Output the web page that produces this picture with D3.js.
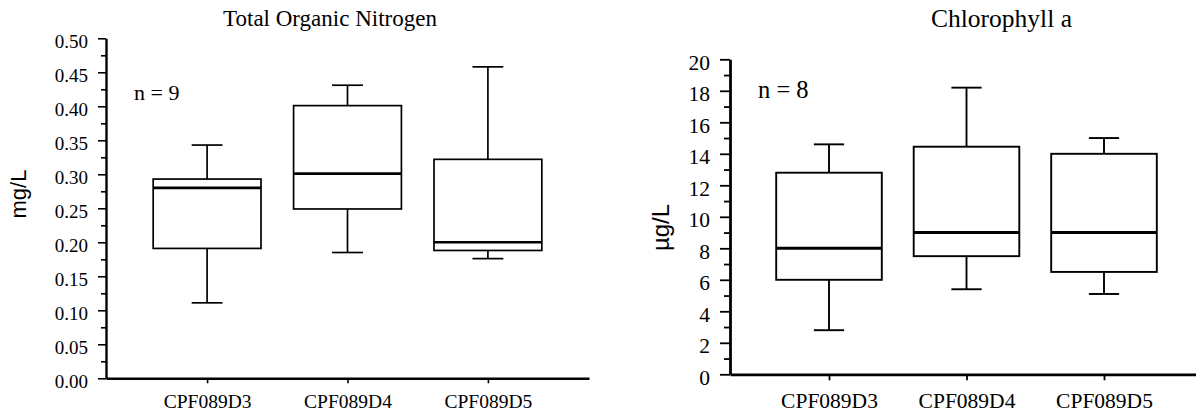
<!DOCTYPE html>
<html>
<head>
<meta charset="utf-8">
<script src="https://cdn.jsdelivr.net/npm/d3@7"></script>
<style>
    body { margin: 0; background: #fff; }
    svg { display: block; }
</style>
</head>
<body>
<svg id="chart" width="1196" height="415"></svg>
<script>

// stations on the x axis
const categories = ["CPF089D3", "CPF089D4", "CPF089D5"];

// Total Organic Nitrogen (mg/L), n = 9
const tonMin    = [0.111, 0.185, 0.176];
const tonQ1     = [0.191, 0.249, 0.188];
const tonMedian = [0.280, 0.301, 0.200];
const tonQ3     = [0.293, 0.401, 0.322];
const tonMax    = [0.343, 0.431, 0.458];
const tonTicks  = [0, 0.05, 0.10, 0.15, 0.20, 0.25, 0.30, 0.35, 0.40, 0.45, 0.50];

// Chlorophyll a (µg/L), n = 8
const chlMin    = [2.8, 5.4, 5.1];
const chlQ1     = [6.0, 7.5, 6.5];
const chlMedian = [8.0, 9.0, 9.0];
const chlQ3     = [12.8, 14.45, 14.0];
const chlMax    = [14.6, 18.2, 15.0];
const chlTicks  = [0, 2, 4, 6, 8, 10, 12, 14, 16, 18, 20];

const serif = "'Liberation Serif', 'Times New Roman', serif";
const sans = "'Liberation Sans', Arial, sans-serif";

class BoxPanel {

    constructor(svg, opts) {

        this.svg = svg;
        this.o = opts;

        this.y = d3.scaleLinear()
        .domain([0, opts.ticks[opts.ticks.length - 1]])
        .range([opts.bottom, opts.top]);

        this.x = d3.scalePoint()
        .domain(categories)
        .range([opts.left, opts.right])
        .padding(0.72);

        this.g = svg.append("g");

        this.drawAxes();
        this.drawBoxes();
        this.drawText();
    }

    drawAxes() {
        let o = this.o;

        /*
        |--------------------------------------------------------------------------
        | Y axis : major ticks with labels, minor ticks halfway between
        |--------------------------------------------------------------------------
        */

        let minor = [];
        for (let i = 0; i < o.ticks.length - 1; i++) {
            minor.push((o.ticks[i] + o.ticks[i + 1]) / 2);
        }

        this.g.append("g")
        .attr("transform", `translate(${o.left},0)`)
        .call(d3.axisLeft(this.y).tickValues(minor).tickSize(o.minorTick).tickFormat(""))
        .call(g => g.select(".domain").remove())
        .call(g => g.selectAll("line").attr("stroke", "#000").attr("stroke-width", o.tickWidth));

        let yAxis = this.g.append("g")
        .attr("transform", `translate(${o.left},0)`)
        .call(d3.axisLeft(this.y)
            .tickValues(o.ticks)
            .tickSize(o.majorTick)
            .tickSizeOuter(0)
            .tickPadding(10)
            .tickFormat(o.format));

        yAxis.select(".domain").attr("stroke", "#000").attr("stroke-width", o.axisWidth);
        yAxis.selectAll(".tick line").attr("stroke", "#000").attr("stroke-width", o.tickWidth);
        yAxis.selectAll("text")
        .attr("dy", "0.47em")
        .attr("fill", "#000")
        .style("font-family", serif)
        .style("font-size", o.tickFont + "px");

        /*
        |--------------------------------------------------------------------------
        | X axis : one short tick under each station
        |--------------------------------------------------------------------------
        */

        let xAxis = this.g.append("g")
        .attr("transform", `translate(0,${o.bottom})`)
        .call(d3.axisBottom(this.x).tickSize(o.catTick).tickSizeOuter(0));

        xAxis.select(".domain").attr("stroke", "#000").attr("stroke-width", o.axisWidth);
        xAxis.selectAll(".tick line").attr("stroke", "#000").attr("stroke-width", o.tickWidth);
        xAxis.selectAll("text")
        .attr("y", o.catBaseline)
        .attr("dy", 0)
        .attr("fill", "#000")
        .style("font-family", serif)
        .style("font-size", o.catFont + "px");
    }

    drawBoxes() {
        let o = this.o;
        let step = this.x.step();
        let boxW = step * 0.768;
        let capW = step * 0.22;

        let rows = categories.map((c, i) => ({
            cat: c,
            min: o.min[i], q1: o.q1[i], median: o.median[i], q3: o.q3[i], max: o.max[i]
        }));

        let box = this.g.selectAll("g.box")
        .data(rows)
        .enter()
        .append("g")
        .attr("class", "box")
        .attr("transform", d => `translate(${this.x(d.cat)},0)`)
        .attr("stroke", "#000")
        .attr("fill", "none");

        // whiskers
        box.append("line")
        .attr("x1", 0).attr("x2", 0)
        .attr("y1", d => this.y(d.q3)).attr("y2", d => this.y(d.max))
        .attr("stroke-width", o.lineWidth);

        box.append("line")
        .attr("x1", 0).attr("x2", 0)
        .attr("y1", d => this.y(d.q1)).attr("y2", d => this.y(d.min))
        .attr("stroke-width", o.lineWidth);

        // caps
        ["max", "min"].forEach(k => {
            box.append("line")
            .attr("x1", -capW / 2).attr("x2", capW / 2)
            .attr("y1", d => this.y(d[k])).attr("y2", d => this.y(d[k]))
            .attr("stroke-width", o.lineWidth);
        });

        // box
        box.append("rect")
        .attr("x", -boxW / 2)
        .attr("width", boxW)
        .attr("y", d => this.y(d.q3))
        .attr("height", d => this.y(d.q1) - this.y(d.q3))
        .attr("fill", "#fff")
        .attr("stroke-width", o.lineWidth);

        // median
        box.append("line")
        .attr("x1", -boxW / 2).attr("x2", boxW / 2)
        .attr("y1", d => this.y(d.median)).attr("y2", d => this.y(d.median))
        .attr("stroke-width", o.medianWidth);
    }

    drawText() {
        let o = this.o;

        this.svg.append("text")
        .attr("x", o.titleX)
        .attr("y", o.titleY)
        .attr("text-anchor", "middle")
        .style("font-family", serif)
        .style("font-size", o.titleFont + "px")
        .text(o.title);

        this.svg.append("text")
        .attr("x", o.nX)
        .attr("y", o.nY)
        .style("font-family", serif)
        .style("font-size", o.nFont + "px")
        .text(o.n);

        this.svg.append("text")
        .attr("transform", `translate(${o.labelX},${o.labelY}) rotate(-90)`)
        .attr("text-anchor", "middle")
        .style("font-family", sans)
        .style("font-size", o.labelFont + "px")
        .text(o.label);
    }
}

const svg = d3.select("#chart");

new BoxPanel(svg, {
    title: "Total Organic Nitrogen", label: "mg/L", n: "n = 9",
    min: tonMin, q1: tonQ1, median: tonMedian, q3: tonQ3, max: tonMax,
    ticks: tonTicks, format: d3.format(".2f"),
    left: 106, right: 589, top: 38.3, bottom: 378.3,
    majorTick: 8, minorTick: 5, catTick: 5, catBaseline: 30,
    axisWidth: 2.4, tickWidth: 1.6, lineWidth: 1.7, medianWidth: 2.6,
    tickFont: 19, catFont: 19.5, titleFont: 23, nFont: 22, labelFont: 22,
    titleX: 330, titleY: 25.5, nX: 134, nY: 100, labelX: 26, labelY: 194
});

new BoxPanel(svg, {
    title: "Chlorophyll a", label: "µg/L", n: "n = 8",
    min: chlMin, q1: chlQ1, median: chlMedian, q3: chlQ3, max: chlMax,
    ticks: chlTicks, format: d3.format("d"),
    left: 730, right: 1203, top: 59.3, bottom: 374.3,
    majorTick: 10, minorTick: 6, catTick: 6, catBaseline: 34,
    axisWidth: 2.8, tickWidth: 1.8, lineWidth: 1.9, medianWidth: 2.9,
    tickFont: 21.5, catFont: 21.5, titleFont: 25.5, nFont: 24.5, labelFont: 24,
    titleX: 1001.5, titleY: 26.5, nX: 758, nY: 98, labelX: 669, labelY: 227.5
});

</script>
</body>
</html>
